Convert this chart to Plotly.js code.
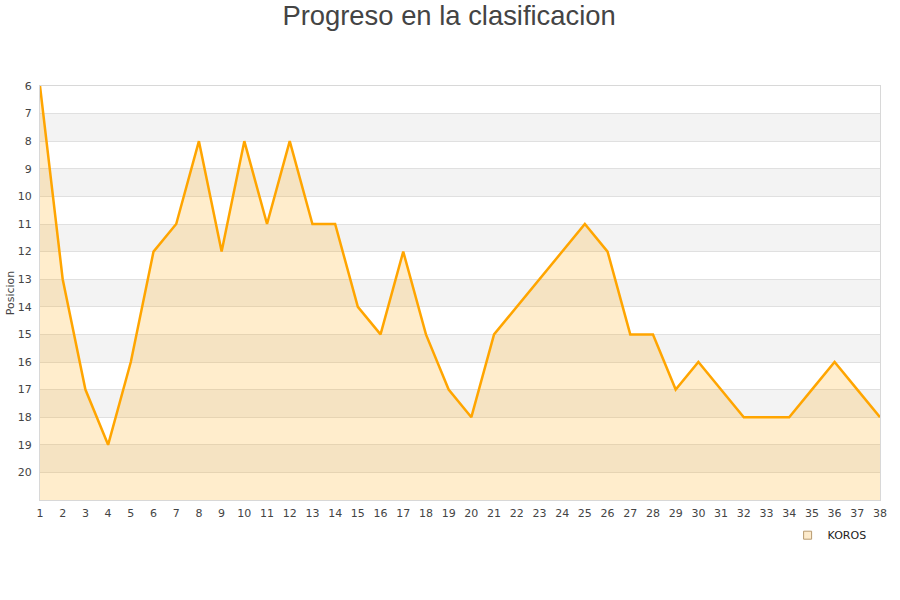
<!DOCTYPE html>
<html>
<head>
<meta charset="utf-8">
<script src="https://cdn.plot.ly/plotly-3.0.1.min.js"></script>
<style>
  body { margin: 0; background: #fff; }
  #myDiv { width: 900px; height: 600px; }
</style>
</head>
<body>
<div id="myDiv"></div>
<script>
// jornadas y posicion de KOROS
var jornadas = [1,2,3,4,5,6,7,8,9,10,11,12,13,14,15,16,17,18,19,
  20,21,22,23,24,25,26,27,28,29,30,31,32,33,34,35,36,37,38];
var posicion = [6,13,17,19,16,12,11,8,12,8,11,8,11,11,14,15,12,15,17,
  18,15,14,13,12,11,12,15,15,17,16,17,18,18,18,17,16,17,18];
var posTicks = [6,7,8,9,10,11,12,13,14,15,16,17,18,19,20];
var fondo = 21;   // ultima posicion (borde inferior)
var equipo = 'KOROS';

// franjas grises alternas
var shapes = [];
posTicks.forEach(function (p) {
  if (p % 2 === 1) {
    shapes.push({
      type: 'rect', xref: 'paper', yref: 'y', layer: 'below',
      x0: 0, x1: 1, y0: p, y1: p + 1,
      fillcolor: '#f3f3f3', line: {width: 0}
    });
  }
});

var base = {
  x: [jornadas[0], jornadas[jornadas.length - 1]],
  y: [fondo, fondo],
  mode: 'lines',
  line: {width: 0},
  hoverinfo: 'skip',
  showlegend: false
};

var trace1 = {
  x: jornadas,
  y: posicion,
  mode: 'lines',
  fill: 'tonexty',
  fillcolor: 'rgba(255,165,0,0.2)',
  line: {color: '#FFA500', width: 2.5},
  name: equipo,
  showlegend: false
};

var legendTrace = {
  x: [null], y: [null],
  mode: 'markers',
  name: equipo,
  marker: {symbol: 'square', size: 8, color: '#fdebcc', line: {color: '#b89a70', width: 1}}
};

var layout = {
  width: 900,
  height: 600,
  margin: {l: 40, r: 20, t: 86, b: 100},
  paper_bgcolor: '#fff',
  plot_bgcolor: 'rgba(0,0,0,0)',
  font: {family: 'DejaVu Sans, Verdana, sans-serif', size: 11, color: '#444'},
  title: {
    text: 'Progreso en la clasificacion',
    font: {family: 'Liberation Sans, Arial, sans-serif', size: 27.4, color: '#444'},
    x: 0.499, xanchor: 'center', y: 0.974, yanchor: 'middle'
  },
  xaxis: {
    range: [1, 38],
    tickvals: jornadas,
    showgrid: false,
    zeroline: false,
    showline: true, linecolor: '#d8d8d8', linewidth: 1, mirror: true,
    ticks: '', ticklen: 0,
    ticklabelstandoff: 3,
    tickfont: {size: 11, color: '#444'}
  },
  yaxis: {
    range: [fondo, 6],
    tickvals: posTicks,
    showgrid: true, gridcolor: '#e0e0e0', gridwidth: 1,
    zeroline: false,
    showline: true, linecolor: '#d8d8d8', linewidth: 1, mirror: true,
    ticks: '', ticklen: 0,
    ticklabelstandoff: 5,
    tickfont: {size: 11, color: '#444'},
    title: {text: 'Posicion', font: {size: 11, color: '#444'}, standoff: 0}
  },
  shapes: shapes,
  showlegend: true,
  legend: {
    x: 0.99, xanchor: 'right', y: -0.05, yanchor: 'top',
    bgcolor: 'rgba(255,255,255,0)',
    font: {size: 11, color: '#222'},
    itemwidth: 30
  }
};

Plotly.newPlot('myDiv', [base, trace1, legendTrace], layout, {displayModeBar: false, staticPlot: true});
</script>
</body>
</html>
